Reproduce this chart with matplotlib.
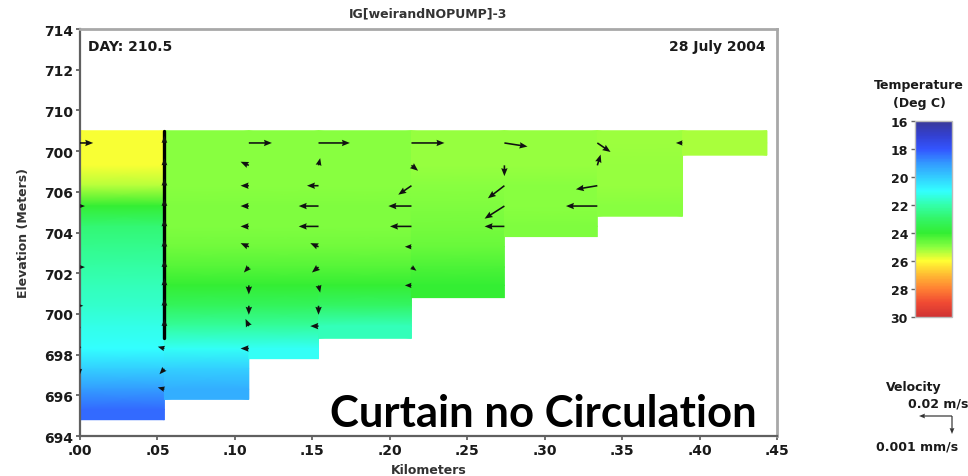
import numpy as np
import matplotlib.pyplot as plt
from matplotlib.colors import LinearSegmentedColormap, Normalize
from matplotlib.cm import ScalarMappable

# grid: segment edges (km), segment bottoms (m), layer centres (m)
seg_edges_km = [0.0, 0.0545, 0.109, 0.154, 0.214, 0.274, 0.334, 0.389, 0.4435]
seg_bottom_m = [694.8, 695.8, 697.8, 698.8, 700.8, 703.8, 704.8, 707.8]
surface_m = 709.0
layer_mid_m = [708.4, 707.3, 706.3, 705.3, 704.3, 703.3, 702.3, 701.4,
               700.4, 699.4, 698.3, 697.3, 696.3, 695.3]

# temperature (deg C) per segment, top layer first
temp_seg = [
    [25.9, 25.9, 25.4, 24.0, 22.8, 22.4, 22.1, 21.8, 21.6, 21.3, 21.0, 20.1, 19.1, 18.3],
    [25.0, 25.0, 25.0, 24.9, 24.9, 24.7, 24.4, 24.0, 23.2, 22.2, 21.1, 20.1, 19.4],
    [25.0, 25.0, 25.0, 24.9, 24.9, 24.7, 24.4, 24.0, 23.2, 22.2, 21.1],
    [25.0, 25.0, 25.0, 24.9, 24.9, 24.7, 24.4, 24.0, 23.0, 21.8],
    [25.1, 25.1, 25.0, 24.9, 24.8, 24.6, 24.3, 24.0],
    [25.1, 25.1, 25.0, 25.0, 24.9],
    [25.15, 25.1, 25.1, 25.0],
    [25.25],
]

# velocities at segment boundaries: horizontal (m/s), vertical (mm/s)
vel_cols_km = [0.0, 0.0545, 0.109, 0.154, 0.214, 0.274, 0.334, 0.389]
vel_u = [
    [0.008, 0, 0, 0.003, 0, 0, 0.003, 0, 0.002, -0.003, -0.002, 0, 0, 0],
    [0, 0, 0, 0, 0, 0, 0, 0, 0, 0, -0.004, -0.003, -0.004],
    [0.014, -0.005, -0.005, -0.005, -0.005, -0.005, -0.003, 0, 0, -0.002, -0.005],
    [0.019, 0.001, -0.007, -0.012, -0.012, -0.005, -0.004, 0.001, 0, -0.005],
    [0.020, 0.004, -0.008, -0.014, -0.013, -0.004, 0.003, -0.004],
    [0.014, 0, -0.010, -0.012, -0.012],
    [0.008, 0.002, -0.013, -0.019],
    [-0.004],
]
vel_w = [
    [0, 0, 0, 0, 0, 0, 0, 0, 0, -0.0001, 0.0002, -0.0003, 0, 0],
    [0.0004] * 10 + [0.0001, -0.0003, 0.0001],
    [0, 0.0002, 0, 0, 0, 0.0002, -0.0003, -0.0005, -0.0005, 0.0004, 0],
    [0, 0.0004, 0, 0, 0, 0.0002, -0.0003, -0.0004, -0.0005, 0],
    [0, -0.0003, -0.0005, 0, 0, 0, -0.0002, 0],
    [-0.0002, -0.0006, -0.0007, -0.0007, 0],
    [-0.0005, 0.0006, -0.0002, 0],
    [0],
]

curtain_km = 0.0545
curtain_bottom_m = 698.8

ref_u = 0.02     # m/s
ref_w = 0.001    # mm/s
ref_u_px = 33
ref_w_px = 18

xticks = [0.0, 0.05, 0.10, 0.15, 0.20, 0.25, 0.30, 0.35, 0.40, 0.45]
xtick_labels = [".00", ".05", ".10", ".15", ".20", ".25", ".30", ".35", ".40", ".45"]
yticks = [714, 712, 710, 708, 706, 704, 702, 700, 698, 696, 694]
ytick_labels = ["714", "712", "710", "700", "706", "704", "702", "700", "698", "696", "694"]
cbar_ticks = [16, 18, 20, 22, 24, 26, 28, 30]

cmap = LinearSegmentedColormap.from_list("wq", [
    (0 / 14, "#3a3a98"), (1 / 14, "#3340d0"), (2 / 14, "#3355ff"),
    (3 / 14, "#3399ff"), (4 / 14, "#33ccff"), (5 / 14, "#33ffff"),
    (6 / 14, "#33ffaa"), (7 / 14, "#33f566"), (8 / 14, "#33ee33"),
    (9 / 14, "#88ff40"), (10 / 14, "#ffff33"), (11 / 14, "#ffbb33"),
    (12 / 14, "#ff8033"), (13 / 14, "#f04a33"), (14 / 14, "#d03333")])
norm = Normalize(16, 30)

fig = plt.figure(figsize=(9.68, 4.77), dpi=100)
ax = fig.add_axes([80 / 968, 40 / 477, 697 / 968, 407 / 477])

# temperature curtain, one column per segment
for j, temps in enumerate(temp_seg):
    n = len(temps)
    z = [surface_m] + layer_mid_m[:n] + [seg_bottom_m[j]]
    t = [temps[0]] + temps + [temps[-1]]
    X = np.array([[seg_edges_km[j], seg_edges_km[j + 1]]] * len(z))
    Z = np.column_stack([z, z])
    C = np.column_stack([t, t])
    ax.pcolormesh(X, Z, C, cmap=cmap, norm=norm, shading="gouraud")

# curtain
ax.plot([curtain_km, curtain_km], [surface_m, curtain_bottom_m],
        color="black", lw=2.4, solid_capstyle="round", zorder=3)

# velocity vectors
qx, qz, qu, qw = [], [], [], []
for k, xk in enumerate(vel_cols_km):
    for i, (u, w) in enumerate(zip(vel_u[k], vel_w[k])):
        if u == 0 and w == 0:
            continue
        qx.append(xk)
        qz.append(layer_mid_m[i])
        qu.append(u / ref_u * ref_u_px)
        qw.append(w / ref_w * ref_w_px)
ax.quiver(qx, qz, qu, qw, angles="uv", scale_units="dots", scale=1,
          units="dots", width=1.6, headwidth=4, headlength=5,
          headaxislength=4.5, pivot="tail", color="#111111", zorder=4)

ax.set_xlim(0, 0.45)
ax.set_ylim(694, 714)
ax.set_xticks(xticks)
ax.set_xticklabels(xtick_labels)
ax.set_yticks(yticks)
ax.set_yticklabels(ytick_labels)
ax.tick_params(length=3, width=1.2, pad=2, labelsize=10, color="#555555")
for lab in ax.get_xticklabels() + ax.get_yticklabels():
    lab.set_fontweight("bold")
    lab.set_color("#1a1a1a")
for s in ["top", "right"]:
    ax.spines[s].set_color("#a8a8a8")
    ax.spines[s].set_linewidth(2)
for s in ["left", "bottom"]:
    ax.spines[s].set_color("#606060")
    ax.spines[s].set_linewidth(1.6)

ax.set_xlabel("Kilometers", fontsize=9, fontweight="bold", color="#333333")
ax.xaxis.set_label_coords(0.5, -0.066)
ax.set_ylabel("Elevation (Meters)", fontsize=9, fontweight="bold", color="#333333")
ax.yaxis.set_label_coords(-0.072, 0.5)

ax.text(0.0115, 0.958, "DAY: 210.5", transform=ax.transAxes, fontsize=10,
        fontweight="bold", va="center", ha="left", color="#1a1a1a")
ax.text(0.983, 0.958, "28 July 2004", transform=ax.transAxes, fontsize=10,
        fontweight="bold", va="center", ha="right", color="#1a1a1a")
fig.text(428 / 968, 1 - 14 / 477, "IG[weirandNOPUMP]-3", fontsize=9,
         fontweight="bold", ha="center", va="center", color="#333333")

fig.text(330 / 968, 50 / 477, "Curtain no Circulation", family="Lato",
         fontsize=31.4, fontweight="bold", ha="left", va="baseline", color="black")

# colour bar
cax = fig.add_axes([915 / 968, 159 / 477, 37 / 968, 196 / 477])
cb = fig.colorbar(ScalarMappable(norm=norm, cmap=cmap), cax=cax, ticks=cbar_ticks)
cax.invert_yaxis()
cax.yaxis.set_ticks_position("left")
cax.tick_params(length=3, width=1, pad=2, labelsize=9, color="#666666")
for lab in cax.get_yticklabels():
    lab.set_fontweight("bold")
    lab.set_color("#1a1a1a")
cb.outline.set_edgecolor("#bbbbbb")
cb.outline.set_linewidth(1)
fig.text(919 / 968, 1 - 86 / 477, "Temperature", fontsize=9, fontweight="bold",
         ha="center", va="center", color="#1a1a1a")
fig.text(919 / 968, 1 - 103 / 477, "(Deg C)", fontsize=9, fontweight="bold",
         ha="center", va="center", color="#1a1a1a")

# velocity key
fig.text(914 / 968, 1 - 387 / 477, "Velocity", fontsize=9, fontweight="bold",
         ha="center", va="center", color="#1a1a1a")
fig.text(968 / 968, 1 - 404 / 477, "0.02 m/s", fontsize=9, fontweight="bold",
         ha="right", va="center", color="#1a1a1a")
fig.text(958 / 968, 1 - 447 / 477, "0.001 mm/s", fontsize=9, fontweight="bold",
         ha="right", va="center", color="#1a1a1a")
kx, ky = 952 / 968, 1 - 417 / 477
ax.quiver([kx, kx], [ky, ky], [-ref_u / ref_u * ref_u_px, 0], [0, -ref_w / ref_w * ref_w_px],
          angles="uv", scale_units="dots", scale=1, units="dots", width=1.2,
          headwidth=4, headlength=5, headaxislength=4.5, pivot="tail",
          color="#333333", transform=fig.transFigure, clip_on=False)

fig.savefig("out.png", dpi=100)
